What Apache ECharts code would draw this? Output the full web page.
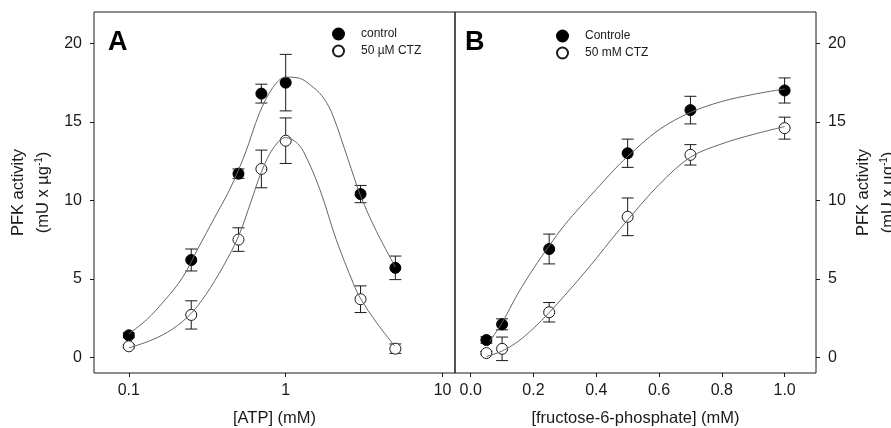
<!DOCTYPE html>
<html><head><meta charset="utf-8">
<script src="https://cdn.jsdelivr.net/npm/echarts@6/dist/echarts.min.js"></script>
<style>html,body{margin:0;padding:0;background:#fff}#c{width:891px;height:428px}</style>
</head><body><div id="c"></div>
<script>
// ---- Panel A: [ATP] ----
const atpX = [0.1, 0.25, 0.5, 0.7, 1, 3, 5];
const atpControl = [1.4, 6.2, 11.7, 16.8, 17.5, 10.4, 5.7];
const atpControlErr = [0.15, 0.7, 0.3, 0.6, 1.8, 0.55, 0.75];
const atpCTZ = [0.7, 2.7, 7.5, 12.0, 13.8, 3.7, 0.55];
const atpCTZErr = [0.1, 0.9, 0.75, 1.2, 1.45, 0.85, 0.3];
// fitted curves
const atpControlFitX = [0.1, 0.13, 0.17, 0.22, 0.28, 0.35, 0.44, 0.55, 0.68, 0.83, 1.0, 1.2, 1.5, 1.75, 2.0, 2.5, 3.0, 3.8, 5.0];
const atpControlFitY = [1.5, 2.4, 3.65, 5.08, 7.05, 8.85, 10.7, 12.95, 15.55, 17.2, 17.85, 17.8, 17.2, 16.5, 15.4, 12.6, 10.3, 8.0, 5.75];
const atpCTZFitX = [0.1, 0.14, 0.19, 0.25, 0.31, 0.4, 0.5, 0.6, 0.7, 0.83, 1.0, 1.15, 1.3, 1.65, 2.1, 2.7, 3.0, 3.8, 4.95];
const atpCTZFitY = [0.6, 1.1, 1.8, 2.8, 4.0, 5.8, 7.7, 9.9, 11.8, 13.3, 14.0, 13.75, 13.1, 10.7, 7.5, 4.7, 3.75, 2.2, 0.72];
const atpTicks = [0.1, 1, 10];

// ---- Panel B: [fructose-6-phosphate] ----
const f6pX = [0.05, 0.1, 0.25, 0.5, 0.7, 1.0];
const f6pControl = [1.1, 2.1, 6.9, 13.0, 15.75, 17.0];
const f6pControlErr = [0.2, 0.35, 0.95, 0.9, 0.88, 0.8];
const f6pCTZ = [0.27, 0.54, 2.87, 8.95, 12.9, 14.6];
const f6pCTZErr = [0.1, 0.75, 0.62, 1.2, 0.65, 0.7];
const f6pControlFitX = [0.06, 0.1, 0.15, 0.2, 0.25, 0.3, 0.35, 0.4, 0.45, 0.5, 0.6, 0.7, 0.8, 0.9, 1.0];
const f6pControlFitY = [1.0, 2.2, 4.05, 5.65, 7.1, 8.45, 9.6, 10.7, 11.8, 12.8, 14.5, 15.6, 16.3, 16.75, 17.1];
const f6pCTZFitX = [0.05, 0.1, 0.15, 0.2, 0.25, 0.3, 0.35, 0.4, 0.45, 0.5, 0.6, 0.7, 0.8, 0.9, 1.0];
const f6pCTZFitY = [0.05, 0.4, 1.0, 1.85, 2.85, 3.95, 5.1, 6.3, 7.55, 8.75, 11.0, 12.75, 13.6, 14.2, 14.7];
const f6pTicks = [0, 0.2, 0.4, 0.6, 0.8, 1.0];

const yTicks = [0, 5, 10, 15, 20];
const namesA = ['control', '50 µM CTZ'];
const namesB = ['Controle', '50 mM CTZ'];

const FONT = 'Liberation Sans, Arial, sans-serif';
const INK = '#1a1a1a';
const CURVE = '#666';

const zip = (xs, ys) => xs.map((x, i) => [x, ys[i]]);
const zip3 = (xs, ys, es) => xs.map((x, i) => [x, ys[i], es[i]]);

function errRender(params, api) {
  const x = api.value(0), y = api.value(1), e = api.value(2);
  const t = api.coord([x, y + e]);
  const b = api.coord([x, y - e]);
  const h = 6;
  const st = { stroke: INK, lineWidth: 1 };
  return { type: 'group', children: [
    { type: 'line', shape: { x1: t[0], y1: t[1], x2: b[0], y2: b[1] }, style: st },
    { type: 'line', shape: { x1: t[0] - h, y1: t[1], x2: t[0] + h, y2: t[1] }, style: st },
    { type: 'line', shape: { x1: b[0] - h, y1: b[1], x2: b[0] + h, y2: b[1] }, style: st }
  ]};
}
function errSeries(idx, data) {
  return { type: 'custom', xAxisIndex: idx, yAxisIndex: idx, data: data, renderItem: errRender,
    encode: { x: 0, y: 1 }, z: 2, silent: true };
}
function pts(idx, name, data, filled) {
  return { type: 'scatter', name: name, xAxisIndex: idx, yAxisIndex: idx, data: data, symbol: 'circle',
    symbolSize: 11, z: 3,
    itemStyle: filled ? { color: '#000', borderColor: '#000', borderWidth: 1, opacity: 1 }
                      : { color: '#fff', borderColor: INK, borderWidth: 1, opacity: 1 } };
}
function curve(idx, data) {
  return { type: 'line', xAxisIndex: idx, yAxisIndex: idx, data: data, smooth: 0.35, showSymbol: false,
    symbol: 'none', lineStyle: { color: CURVE, width: 1 }, z: 4, silent: true };
}

const yName = '{t|PFK activity}\n{t|(mU x µg}{s|-1}{t|)}';
const yNameStyle = {
  rich: {
    t: { fontSize: 16.5, lineHeight: 25, color: INK, fontFamily: FONT },
    s: { fontSize: 10, lineHeight: 10, color: INK, fontFamily: FONT, verticalAlign: 'top', padding: [3, 0, 0, 0] }
  }
};
const tickLabel = { fontSize: 16, color: INK, fontFamily: FONT };
const tickStyle = { show: true, inside: false, length: 4, lineStyle: { color: INK } };

const option = {
  animation: false,
  backgroundColor: '#fff',
  title: [
    { text: 'A', left: 103, top: 24, textStyle: { fontSize: 27, fontWeight: 'bold', color: '#000', fontFamily: FONT } },
    { text: 'B', left: 460, top: 24, textStyle: { fontSize: 27, fontWeight: 'bold', color: '#000', fontFamily: FONT } }
  ],
  legend: [
    { data: namesA, orient: 'vertical', left: 327, top: 22, itemWidth: 11, itemHeight: 11, itemGap: 3,
      textStyle: { fontSize: 12, lineHeight: 14, color: INK, fontFamily: FONT, padding: [0, 0, 0, 12] } },
    { data: namesB, orient: 'vertical', left: 551, top: 24, itemWidth: 11, itemHeight: 11, itemGap: 3,
      textStyle: { fontSize: 12, lineHeight: 14, color: INK, fontFamily: FONT, padding: [0, 0, 0, 12] } }
  ],
  grid: [
    { left: 94, top: 12, width: 361, height: 361, show: true, borderColor: INK, borderWidth: 1,
      containLabel: false, outerBoundsMode: 'none' },
    { left: 455, top: 12, width: 361, height: 361, show: true, borderColor: INK, borderWidth: 1,
      containLabel: false, outerBoundsMode: 'none' }
  ],
  xAxis: [
    { type: 'log', logBase: 10, gridIndex: 0, min: 0.06, max: 12, position: 'bottom',
      name: '[ATP] (mM)', nameLocation: 'middle', nameGap: 35,
      nameTextStyle: { fontSize: 16.5, lineHeight: 20, color: INK, fontFamily: FONT },
      axisLine: { show: false, onZero: false },
      axisTick: { ...tickStyle, customValues: atpTicks },
      axisLabel: { margin: 10, ...tickLabel, customValues: atpTicks, formatter: v => String(v) },
      splitLine: { show: false }, minorTick: { show: false } },
    { type: 'value', gridIndex: 1, min: -0.05, max: 1.1, position: 'bottom',
      name: '[fructose-6-phosphate] (mM)', nameLocation: 'middle', nameGap: 35,
      nameTextStyle: { fontSize: 16.5, lineHeight: 20, color: INK, fontFamily: FONT },
      axisLine: { show: false, onZero: false },
      axisTick: { ...tickStyle, customValues: f6pTicks },
      axisLabel: { margin: 10, ...tickLabel, customValues: f6pTicks, formatter: v => v.toFixed(1) },
      splitLine: { show: false } }
  ],
  yAxis: [
    { type: 'value', gridIndex: 0, position: 'left', min: -1, max: 22,
      name: yName, nameLocation: 'middle', nameGap: 38, nameRotate: 90, nameTextStyle: yNameStyle,
      axisLine: { show: false, onZero: false },
      axisTick: { ...tickStyle, customValues: yTicks },
      axisLabel: { margin: 12, ...tickLabel, customValues: yTicks },
      splitLine: { show: false } },
    { type: 'value', gridIndex: 1, position: 'right', min: -1, max: 22,
      name: yName, nameLocation: 'middle', nameGap: 35, nameRotate: 90, nameTextStyle: yNameStyle,
      axisLine: { show: false, onZero: false },
      axisTick: { ...tickStyle, customValues: yTicks },
      axisLabel: { margin: 12, ...tickLabel, customValues: yTicks },
      splitLine: { show: false } }
  ],
  series: [
    errSeries(0, zip3(atpX, atpControl, atpControlErr)),
    errSeries(0, zip3(atpX, atpCTZ, atpCTZErr)),
    pts(0, namesA[0], zip(atpX, atpControl), true),
    pts(0, namesA[1], zip(atpX, atpCTZ), false),
    curve(0, zip(atpControlFitX, atpControlFitY)),
    curve(0, zip(atpCTZFitX, atpCTZFitY)),
    errSeries(1, zip3(f6pX, f6pControl, f6pControlErr)),
    errSeries(1, zip3(f6pX, f6pCTZ, f6pCTZErr)),
    pts(1, namesB[0], zip(f6pX, f6pControl), true),
    pts(1, namesB[1], zip(f6pX, f6pCTZ), false),
    curve(1, zip(f6pControlFitX, f6pControlFitY)),
    curve(1, zip(f6pCTZFitX, f6pCTZFitY))
  ]
};
const chart = echarts.init(document.getElementById('c'), null, { renderer: 'canvas' });
chart.setOption(option);
</script></body></html>
